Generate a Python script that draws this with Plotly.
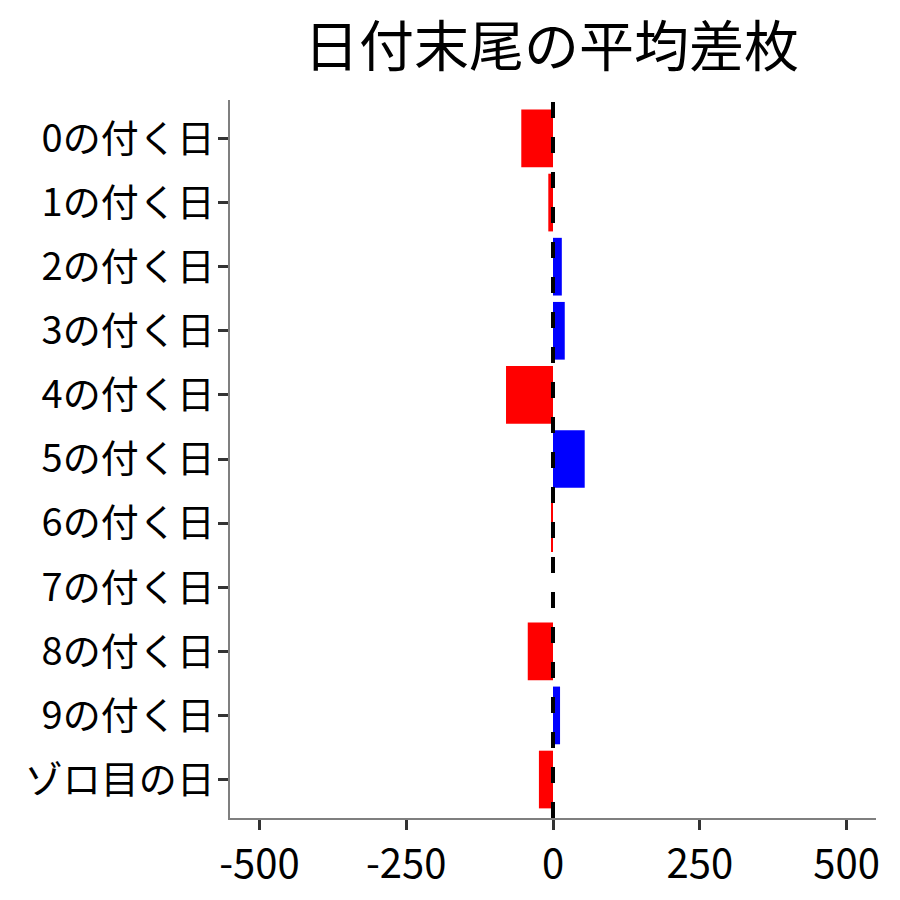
import plotly.graph_objects as go

# 日付末尾ごとの平均差枚
categories = ["0の付く日", "1の付く日", "2の付く日", "3の付く日", "4の付く日",
              "5の付く日", "6の付く日", "7の付く日", "8の付く日", "9の付く日",
              "ゾロ目の日"]
avg_diff = [-54, -8, 15, 20, -80, 54, -2, 0, -43, 12, -24]
x_ticks = [-500, -250, 0, 250, 500]

colors = ["#0000FF" if v > 0 else "#FF0000" for v in avg_diff]
font = "Noto Sans CJK JP"

fig = go.Figure()
fig.add_trace(go.Bar(x=avg_diff, y=categories, orientation="h",
                     marker=dict(color=colors, line=dict(width=0)),
                     width=0.9, showlegend=False))

# ゼロの破線 (下から描く)
fig.add_shape(type="line", x0=0, x1=0, xref="x", y0=0, y1=1, yref="paper",
              line=dict(color="black", width=4, dash="16px,19px"), layer="above")

fig.update_layout(
    width=900, height=900,
    paper_bgcolor="white", plot_bgcolor="white",
    margin=dict(l=222, r=32, t=92, b=90),
    font=dict(family=font, color="black"),
    title=dict(text="日付末尾の平均差枚", x=0.604, xanchor="center",
               y=0.957, yanchor="middle", yref="container",
               font=dict(size=55, family=font, color="black")),
    bargap=0.1,
)
fig.update_xaxes(range=[-550, 550], tickvals=x_ticks, ticktext=[str(t) for t in x_ticks],
                 showgrid=False, zeroline=False, showline=True, linecolor="#7f7f7f", linewidth=1.5,
                 ticks="outside", ticklen=10, tickwidth=3, tickcolor="#333333",
                 tickfont=dict(size=40, family=font, color="black"))
fig.update_yaxes(categoryorder="array", categoryarray=categories, range=[10.6, -0.6],
                 showgrid=False, zeroline=False, showline=True, linecolor="#7f7f7f", linewidth=1.5,
                 ticks="outside", ticklen=10, tickwidth=3, tickcolor="#333333",
                 ticklabelstandoff=-4,
                 tickfont=dict(size=38, family=font, color="black"))

fig.write_html("out.html")
